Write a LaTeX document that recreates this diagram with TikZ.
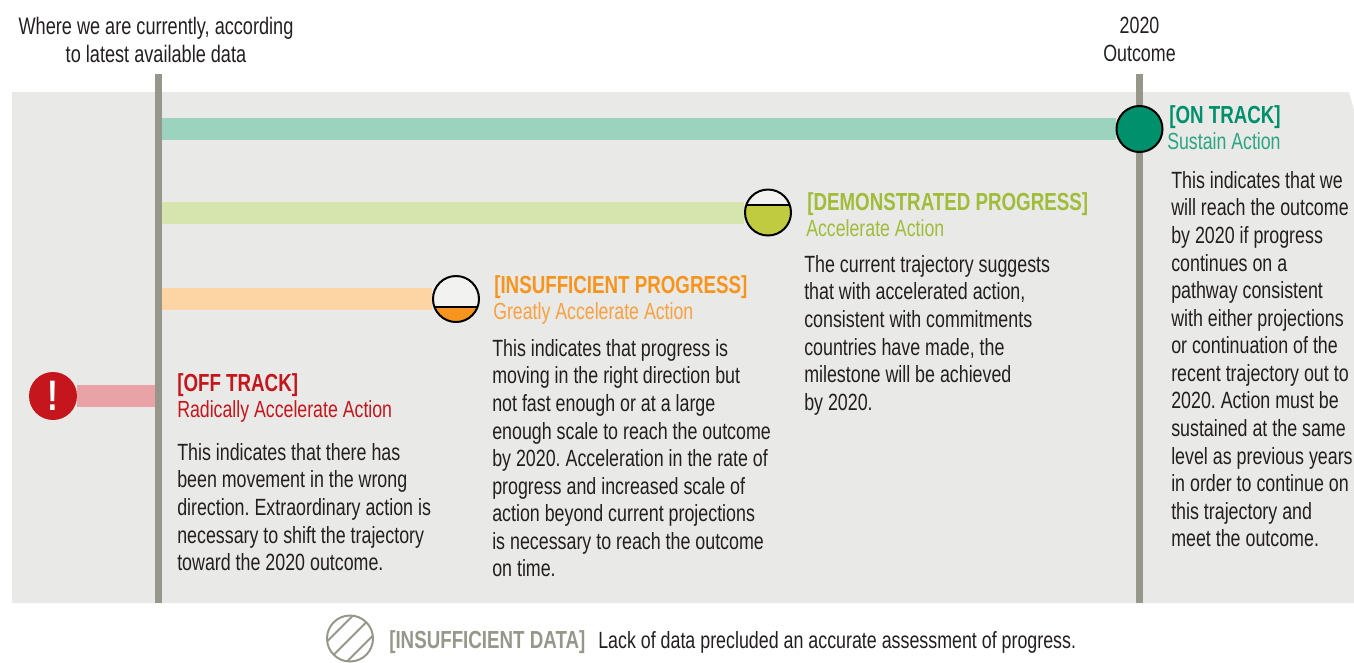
\documentclass[tikz,border=0pt]{standalone}
\usepackage{fontspec}
\setmainfont[FakeStretch=0.76]{Liberation Sans}
\usetikzlibrary{backgrounds}
\definecolor{panelgrey}{HTML}{E9E9E7}
\definecolor{linegrey}{HTML}{96978A}
\definecolor{bodyblack}{HTML}{231F20}
\definecolor{trackgreen}{HTML}{00906B}
\definecolor{tracksub}{HTML}{2BA582}
\definecolor{trackbar}{HTML}{9CD3BF}
\definecolor{limefill}{HTML}{C1CB3F}
\definecolor{limehead}{HTML}{A0BD3A}
\definecolor{limebar}{HTML}{D6E4AE}
\definecolor{orangefill}{HTML}{F7941E}
\definecolor{orangesub}{HTML}{F9A03F}
\definecolor{orangebar}{HTML}{FDD5A5}
\definecolor{redfill}{HTML}{C4161C}
\definecolor{redbar}{HTML}{E9A3A6}
\frenchspacing
\begin{document}
\begin{tikzpicture}[x=0.75pt,y=-0.75pt]
\tikzstyle{ann} = [font=\fontsize{17.6}{20.68}\selectfont,text=bodyblack,inner sep=0pt,align=left,anchor=north west]
\tikzstyle{top} = [ann,align=center,anchor=north]
\tikzstyle{head} = [inner sep=0pt,anchor=base west,font=\fontsize{18.5}{21}\selectfont\bfseries]
\tikzstyle{sub} = [inner sep=0pt,anchor=base west,font=\fontsize{17.5}{20}\selectfont]
\tikzstyle{disc} = [circle,draw=black,line width=1.5pt,inner sep=0pt,minimum size=34.5pt]
\tikzstyle{bar} = [line width=16.5pt]
\tikzstyle{rule} = [linegrey,line width=5.25pt]
\useasboundingbox (0,0) rectangle (1354,662);
% markers
\node[disc,fill=trackgreen] (ontrack) at (1139.5,129) {};
\node[disc,fill=white!40!panelgrey,path picture={
  \fill[limefill] (-30,-7.5) rectangle (30,30);
  \draw[black,line width=1.5pt] (-30,-7.5) -- (30,-7.5);
}] (demonstrated) at (768,212.5) {};
\node[disc,fill=white!40!panelgrey,path picture={
  \fill[orangefill] (-30,8) rectangle (30,30);
  \draw[black,line width=1.5pt] (-30,8) -- (30,8);
}] (insufficient) at (456,299) {};
\node[circle,fill=redfill,inner sep=0pt,minimum size=36pt,text=white,font=\fontsize{32}{32}\selectfont\bfseries] (offtrack) at (53,396) {!};
\node[disc,draw=linegrey,line width=1.5pt,path picture={
  \foreach \d in {-10,0,10} {
    \draw[linegrey,line width=1.5pt] (\d-30,\d+30) -- (\d+30,\d-30);
  }
}] (nodata) at (350,638.5) {};
% lines
\coordinate (nowtop) at (158.5,74);
\coordinate (nowbot) at (158.5,603);
\coordinate (outtop) at (1139.5,74);
\coordinate (outbot) at (1139.5,603);
\begin{scope}[on background layer]
\fill[panelgrey] (12,92) -- (1349,92) -- (1354,110) -- (1354,603) -- (12,603) -- cycle;
\draw[bar,trackbar] (nowtop |- ontrack) -- (ontrack);
\draw[bar,limebar] (nowtop |- demonstrated) -- (demonstrated);
\draw[bar,orangebar] (nowtop |- insufficient) -- (insufficient);
\draw[bar,redbar] (offtrack) -- (nowtop |- offtrack);
\draw[rule] (nowtop) -- (nowbot);
\draw[rule] (outtop) -- (outbot);
\end{scope}
% top labels
\node[top,font=\fontsize{17.9}{20.68}\selectfont] (nowlabel) at (156,17) {Where we are currently, according\\to latest available data};
\node[top] (outlabel) at (1139.5,17) {2020\\Outcome};
% on track
\node[head,text=trackgreen] (ontrackhead) at (1169,123) {[ON TRACK]};
\node[sub,text=tracksub] (ontracksub) at (1167,149) {Sustain Action};
\node[ann] (ontracktext) at (1171,171) {This indicates that we\\will reach the outcome\\by 2020 if progress\\continues on a\\pathway consistent\\with either projections\\or continuation of the\\recent trajectory out to\\2020. Action must be\\sustained at the same\\level as previous years\\in order to continue on\\this trajectory and\\meet the outcome.};
% demonstrated
\node[head,text=limehead] (demohead) at (807,210) {[DEMONSTRATED PROGRESS]};
\node[sub,text=limehead] (demosub) at (806,236) {Accelerate Action};
\node[ann] (demotext) at (804,255) {The current trajectory suggests\\that with accelerated action,\\consistent with commitments\\countries have made, the\\milestone will be achieved\\by 2020.};
% insufficient
\node[head,text=orangefill] (insuffhead) at (494,293) {[INSUFFICIENT PROGRESS]};
\node[sub,text=orangesub] (insuffsub) at (493,319) {Greatly Accelerate Action};
\node[ann] (insufftext) at (492,339) {This indicates that progress is\\moving in the right direction but\\not fast enough or at a large\\enough scale to reach the outcome\\by 2020. Acceleration in the rate of\\progress and increased scale of\\action beyond current projections\\is necessary to reach the outcome\\on time.};
% off track
\node[head,text=redfill] (offhead) at (177,391) {[OFF TRACK]};
\node[sub,text=redfill] (offsub) at (177,417) {Radically Accelerate Action};
\node[ann] (offtext) at (177,443) {This indicates that there has\\been movement in the wrong\\direction. Extraordinary action is\\necessary to shift the trajectory\\toward the 2020 outcome.};
% no data
\node[head,text=linegrey] (nodatahead) at (389,648.5) {[INSUFFICIENT DATA]};
\node[ann,anchor=base west] (nodatatext) at (598,648) {Lack of data precluded an accurate assessment of progress.};
\end{tikzpicture}
\end{document}
